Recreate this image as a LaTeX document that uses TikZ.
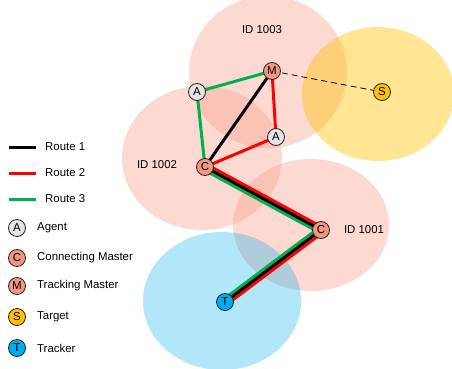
\documentclass[tikz,border=0pt]{standalone}
\usepackage{fontspec}
\setmainfont{Liberation Sans}
\usetikzlibrary{calc}

\definecolor{zonepink}{RGB}{248,165,145}
\definecolor{zoneyellow}{RGB}{255,192,0}
\definecolor{zoneblue}{RGB}{0,176,240}
\definecolor{agentgray}{RGB}{228,228,228}
\definecolor{mastersalmon}{RGB}{243,150,128}
\definecolor{targetgold}{RGB}{255,192,0}
\definecolor{trackerblue}{RGB}{0,170,235}
\definecolor{routered}{RGB}{255,0,0}
\definecolor{routegreen}{RGB}{0,176,80}

\tikzset{
  zone/.style={fill=zonepink, fill opacity=0.42},
  dev/.style={circle, draw=black!85, line width=0.8pt, minimum size=17pt,
    inner sep=0pt, font=\fontsize{11.5}{12}\selectfont},
  agent/.style={dev, fill=agentgray},
  master/.style={dev, fill=mastersalmon},
  target/.style={dev, fill=targetgold},
  tracker/.style={dev, fill=trackerblue},
  route/.style={line width=3pt, line join=round, line cap=round},
  lbl/.style={font=\fontsize{11.4}{13}\selectfont, inner sep=0pt},
}

\begin{document}
\begin{tikzpicture}[x=1pt,y=-1pt]
\useasboundingbox (0,0) rectangle (452,369);
\clip (0,0) rectangle (452,369);

% coverage zones
\fill[zone] (268,72) ellipse [x radius=79, y radius=76];
\fill[zoneyellow, fill opacity=0.42] (378,94) ellipse [x radius=76, y radius=67];
\fill[zone] (202,158) ellipse [x radius=80, y radius=72];
\fill[zone] (311,225) ellipse [x radius=78, y radius=66];
\fill[zoneblue, fill opacity=0.3] (222,301) ellipse [x radius=79, y radius=69];

% zone labels
\node[lbl] (id3) at (262,30) {ID 1003};
\node[lbl] (id2) at (157,165) {ID 1002};
\node[lbl] (id1) at (364,230) {ID 1001};

% device positions
\coordinate (pM)  at (272,71);
\coordinate (pS)  at (382,92);
\coordinate (pA1) at (197,92);
\coordinate (pA2) at (276,137);
\coordinate (pC1) at (205,167);
\coordinate (pC2) at (321,230);
\coordinate (pT)  at (225,302);

% dashed link from tracking master to target
\draw[black, line width=0.8pt, dash pattern=on 6pt off 4pt] (pM) -- (pS);

% route 2 (red): offset to the right of the shared trunk
\draw[route, routered] ($(pT)+(1.81,2.39)$) -- ($(pC2)+(5.5,-0.4)$) -- ($(pC1)+(1.43,-2.64)$);
\draw[route, routered] (pC1) -- (pA2) -- (pM);
% route 3 (green): offset to the left of the shared trunk
\draw[route, routegreen] ($(pT)+(-1.81,-2.39)$) -- ($(pC2)+(-5.5,0.4)$) -- ($(pC1)+(-1.43,2.64)$);
\draw[route, routegreen] (pC1) -- (pA1) -- (pM);
% route 1 (black): down the middle
\draw[route, black] (pT) -- (pC2) -- (pC1) -- (pM);

% devices
\node[master]  (M)  at (pM)  {M};
\node[target]  (S)  at (pS)  {S};
\node[agent]   (A1) at (pA1) {A};
\node[agent]   (A2) at (pA2) {A};
\node[master]  (C1) at (pC1) {C};
\node[master]  (C2) at (pC2) {C};
\node[tracker] (T)  at (pT)  {T};

% legend
\coordinate (l1a) at (9,147);  \coordinate (l1b) at (36,147);
\coordinate (l2a) at (9,173);  \coordinate (l2b) at (36,173);
\coordinate (l3a) at (9,199);  \coordinate (l3b) at (36,199);
\draw[route, line cap=butt, black]      (l1a) -- (l1b);
\draw[route, line cap=butt, routered]   (l2a) -- (l2b);
\draw[route, line cap=butt, routegreen] (l3a) -- (l3b);
\node[lbl, anchor=west] (t1) at (45,147) {Route 1};
\node[lbl, anchor=west] (t2) at (45,173) {Route 2};
\node[lbl, anchor=west] (t3) at (45,199) {Route 3};

\node[agent]   (kA) at (17,228) {A};
\node[master]  (kC) at (17,258) {C};
\node[master]  (kM) at (17,286) {M};
\node[target]  (kS) at (17,317) {S};
\node[tracker] (kT) at (17,348) {T};
\node[lbl, anchor=west] (tA) at (37,228) {Agent};
\node[lbl, anchor=west] (tC) at (37,258) {Connecting Master};
\node[lbl, anchor=west] (tM) at (37,286) {Tracking Master};
\node[lbl, anchor=west] (tS) at (37,317) {Target};
\node[lbl, anchor=west] (tT) at (37,348) {Tracker};
\end{tikzpicture}
\end{document}
